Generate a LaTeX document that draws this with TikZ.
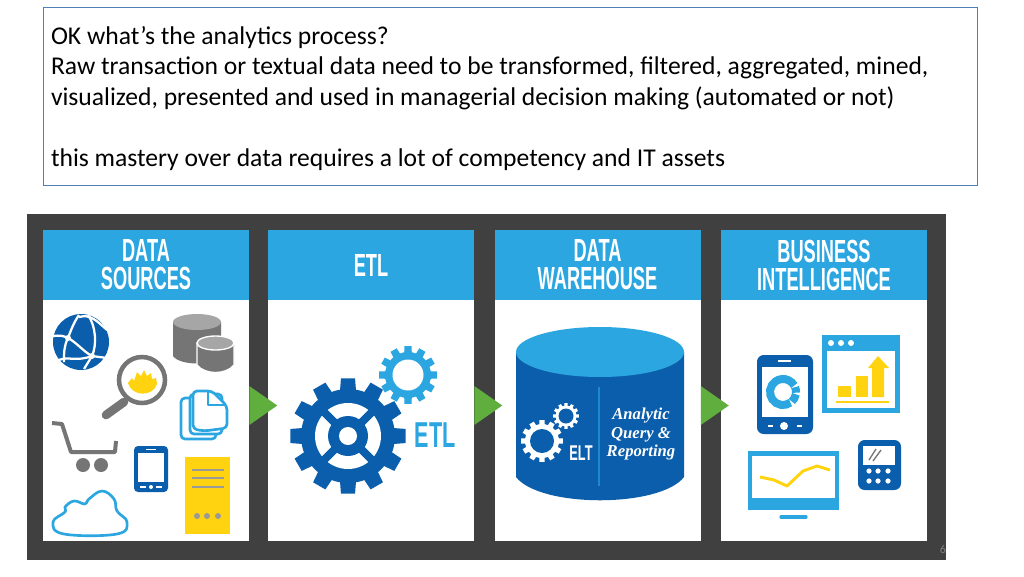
\documentclass[tikz,border=0pt]{standalone}
\usepackage{fontspec}
\setmainfont{Carlito}
\newfontfamily\headfont{Liberation Sans}
\newfontfamily\handfont{Liberation Serif}
\usetikzlibrary{positioning}

\definecolor{backdark}{HTML}{404040}
\definecolor{headblue}{HTML}{2BA6E1}
\definecolor{deepblue}{HTML}{0B5EAB}
\definecolor{tipgreen}{HTML}{5FAE3E}
\definecolor{signyellow}{HTML}{FFD30F}
\definecolor{slategrey}{HTML}{757575}
\definecolor{framelines}{HTML}{4F7FB5}

\newcommand{\headline}[1]{\scalebox{0.57}[1]{#1}}
% x, y, outer radius, root radius, hole radius, colour, hole colour
\newcommand{\gearwheel}[7]{
    \fill[#6] (#1,#2) circle (#4);
    \foreach \a in {0,30,...,330}
        \fill[#6,shift={(#1,#2)}] (\a-10:#4-1) -- (\a-7:#3) -- (\a+7:#3) -- (\a+10:#4-1) -- cycle;
    \fill[#7] (#1,#2) circle (#5);
}

\tikzset{
    panelbox/.style={fill=white,minimum width=154.5pt,minimum height=233.25pt,inner sep=0pt},
    headbox/.style={fill=headblue,text=white,minimum width=154.5pt,minimum height=52.5pt,inner sep=0pt,
        align=center,anchor=north,font=\headfont\bfseries\fontsize{24}{21}\selectfont},
    flowtip/.style={fill=tipgreen},
    outlined/.style={draw=headblue,line width=2pt,fill=white,line join=round}
}

\begin{document}
\begin{tikzpicture}[x=0.75pt,y=-0.75pt]
        \useasboundingbox (0,0) rectangle (1024,576);
        \node (intro) [draw=framelines,line width=0.55pt,minimum width=700.5pt,minimum height=133.5pt,inner sep=6pt,
            text width=688.5pt,align=flush left,font=\fontsize{19.2}{23}\selectfont] at (510,96)
            {\rule{0pt}{17.5pt}OK what’s the analytics process?\\
            Raw transaction or textual data need to be transformed, filtered, aggregated, mined,\\
            visualized, presented and used in managerial decision making (automated or not)\\
            ~\\
            this mastery over data requires a lot of competency and IT assets};

        \node (backdrop) [fill=backdark,minimum width=689.25pt,minimum height=259.5pt] at (486.5,387) {};
        \node (pagenum) [text=gray,font=\fontsize{9}{9}\selectfont,inner sep=0pt] at (943,549) {6};

        \begin{scope}[every node/.style={panelbox}]
            \node (sources) at (146,385.5) {};
            \node (etl) at (371,385.5) {};
            \node (warehouse) at (597.5,385.5) {};
            \node (business) at (824,385.5) {};
        \end{scope}

        \node (sourceshead) [headbox] at (sources.north) {\headline{DATA}\\\headline{SOURCES}};
        \node (etlhead) [headbox] at (etl.north) {\headline{ETL}};
        \node (warehousehead) [headbox] at (warehouse.north) {\headline{DATA}\\\headline{WAREHOUSE}};
        \node (businesshead) [headbox] at (business.north) {\headline{BUSINESS}\\\headline{INTELLIGENCE}};

        \fill[flowtip] (sources.east) ++(0,0.5) -- ++(0,39) -- ++(28,-19.5) -- cycle;
        \fill[flowtip] (etl.east) ++(0,0.5) -- ++(0,39) -- ++(28,-19.5) -- cycle;
        \fill[flowtip] (warehouse.east) ++(0,0.5) -- ++(0,39) -- ++(28,-19.5) -- cycle;

        % data sources icons
        \fill[deepblue] (81,342) circle (28);
        \draw[white,line width=1.7pt] (53,336) .. controls (60,335) and (64,336) .. (68,338)
            .. controls (76,342) and (84,352) .. (92,356) -- (107,358);
        \draw[white,line width=1.7pt] (64,362) .. controls (64,352) and (64,346) .. (68,338)
            .. controls (71,330) and (74,322) .. (79,315);
        \draw[white,line width=1.7pt] (79,317) .. controls (90,314) and (96,320) .. (107,330);
        \draw[white,line width=1.7pt] (88,315) .. controls (96,326) and (97,345) .. (92,356) -- (84,369);
        \draw[white,line width=1.7pt] (59,360) .. controls (68,356) and (76,362) .. (92,356);
        \fill[white] (68,338) circle (3) (92,356) circle (3);

        \fill[slategrey] (173,322) -- (173,356) .. controls (180,366) and (214,366) .. (221,356) -- (221,322) -- cycle;
        \fill[gray!70] (197,322) ellipse (24 and 8);
        \fill[slategrey,draw=white,line width=1pt] (197,343) -- (197,365) .. controls (205,375) and (226,375) .. (234,365) -- (234,343) -- cycle;
        \fill[gray!70,draw=white,line width=1pt] (215.5,343) ellipse (18.5 and 7);

        \draw[slategrey,line width=3.4pt,fill=white] (142,380) circle (23);
        \draw[slategrey,line width=6.5pt,line cap=round] (124,402) -- (106,415);
        \fill[signyellow] (128,383) -- (132,378) -- (134,381) -- (137,372) -- (141,376) -- (144,370) -- (147,376)
            -- (151,373) -- (152,379) -- (156,378) -- (157,384) .. controls (153,397) and (132,397) .. (128,383) -- cycle;

        \draw[outlined,rounded corners=3pt] (181,398) rectangle (216,439);
        \draw[outlined,rounded corners=3pt] (190,394) rectangle (222,434);
        \draw[outlined,rounded corners=3pt] (193,391) -- (212,391) -- (227,406) -- (227,428) -- (204,431) -- (193,429) -- cycle;
        \draw[headblue,line width=2pt,line join=round] (208,391) -- (208,405) -- (224,405);

        \draw[slategrey,line width=3pt,line join=round] (52,423) -- (62,424) -- (71,452) -- (115,452) -- (116,441);
        \fill[slategrey] (83,465) circle (7) (101,465) circle (7);

        \fill[deepblue,rounded corners=3pt] (134,446) rectangle (168,492);
        \fill[white] (138,453) rectangle (164,482);
        \draw[white,line width=0.8pt] (146,449.5) -- (156,449.5) (140,487) -- (146,487) (156,487) -- (162,487);
        \fill[white] (151,487) circle (2);

        \fill[signyellow] (185,457) rectangle (230,534);
        \foreach \y in {470,478,487}
            \draw[gray!80,line width=1.6pt] (192,\y) -- (224,\y);
        \foreach \x in {197,207,218}
            \fill[gray!80] (\x,516) circle (3);

        \draw[outlined] plot[smooth cycle,tension=0.7] coordinates {(64,534) (117,534) (127,522) (117,511) (114,499)
            (102,491) (89,499) (85,504) (74,501) (65,507) (65,512) (53,522)};

        % etl icons
        \gearwheel{408}{375}{29}{23}{15.5}{headblue}{white}
        \gearwheel{348}{436}{58}{47}{33}{deepblue}{white}
        \fill[deepblue] (348,436) circle (20);
        \foreach \a in {45,135,225,315}
            \draw[deepblue,line width=6pt] (348,436) -- ++(\a:36);
        \fill[white] (348,436) circle (9);
        \node (etlmark) [text=headblue,inner sep=0pt,font=\headfont\bfseries\fontsize{27}{27}\selectfont] at (435,435) {\scalebox{0.6}[1]{ETL}};

        % warehouse icon
        \fill[deepblue] (516,352) -- (516,477) .. controls (540,508) and (660,508) .. (684,477) -- (684,352) -- cycle;
        \fill[headblue] (600,352) ellipse (84 and 25);
        \draw[headblue!60!deepblue,line width=0.8pt] (599,387) -- (599,486);
        \gearwheel{542}{441}{21}{17}{12}{white}{deepblue}
        \gearwheel{566}{416}{13}{10.5}{7.5}{white}{deepblue}
        \node (eltmark) [text=white,inner sep=0pt,font=\headfont\bfseries\fontsize{16}{16}\selectfont] at (581,453.5) {\scalebox{0.6}[1]{ELT}};
        \node (reporting) [text=white,inner sep=0pt,align=center,font=\handfont\bfseries\itshape\fontsize{12.5}{14}\selectfont] at (641,434)
            {Analytic\\Query \&\\Reporting};

        % business intelligence icons
        \fill[deepblue,rounded corners=5pt] (757,355) rectangle (813,434);
        \fill[white] (762,367) rectangle (808,417);
        \draw[white,line width=1.2pt] (778,361) -- (791,361) (768,426) -- (773,426) (797,426) -- (802,426);
        \fill[white] (784,426) circle (4);
        \draw[headblue,line width=6pt] (783,392) ++(55:13) arc[start angle=55,end angle=330,radius=13];
        \draw[headblue,line width=6pt] (783,392) ++(338:13) arc[start angle=338,end angle=363,radius=13];
        \draw[headblue,line width=6pt] (783,392) ++(10:13) arc[start angle=10,end angle=47,radius=13];

        \fill[headblue] (822,335) rectangle (900,413);
        \fill[white] (827,351) rectangle (895,408);
        \foreach \x in {831,841,851}
            \fill[white] (\x,343) circle (3);
        \fill[signyellow] (838,386) rectangle (851,397);
        \fill[signyellow] (856,376) rectangle (868,397);
        \fill[signyellow] (872,397) -- (872,368) -- (868,368) -- (878,356) -- (889,368) -- (884,368) -- (884,397) -- cycle;
        \draw[signyellow,line width=1.5pt] (836,402) -- (889,402);

        \fill[deepblue,rounded corners=5pt] (858,440) rectangle (901,490);
        \fill[white] (863,446) rectangle (895,465);
        \draw[slategrey,line width=1pt] (869,460) -- (876,449) (873,461) -- (881,450);
        \foreach \x in {869,878,888}
            \fill[white] (\x,471) circle (2.6) (\x,481) circle (2.6);

        \fill[headblue] (748,451) rectangle (839,510);
        \fill[white] (752,456) rectangle (835,498);
        \draw[headblue,line width=2.4pt,line cap=round] (781,517) -- (806,517);
        \draw[signyellow,line width=2.2pt,line join=round] (760,477) -- (774,480) -- (787,486) -- (803,471) -- (817,466) -- (830,470);
    \end{tikzpicture}
\end{document}
